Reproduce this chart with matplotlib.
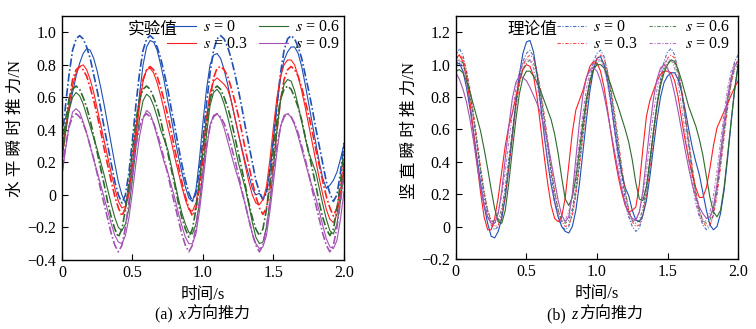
import numpy as np
import matplotlib
matplotlib.use("Agg")
import matplotlib.pyplot as plt
from matplotlib.ticker import FuncFormatter, MultipleLocator
from matplotlib.offsetbox import TextArea, HPacker, AnchoredOffsetbox

plt.rcParams['font.family'] = ['Liberation Serif', 'Noto Sans CJK SC']
plt.rcParams['mathtext.fontset'] = 'stix'
plt.rcParams['font.size'] = 11.5

# time grid, 0.025 s step
time = np.arange(81) * 0.025
labels = ['$s$ = 0', '$s$ = 0.3', '$s$ = 0.6', '$s$ = 0.9']
colors = ['#1f4fb5', '#ff1f1f', '#2e6a2e', '#a352b3']

# (a) x direction, experiment (solid)
blue_exp_a = [0.28, 0.40, 0.52, 0.63, 0.73, 0.81, 0.87, 0.90, 0.89, 0.84, 0.76, 0.66, 0.55, 0.43, 0.31, 0.19, 0.08, 0.00, -0.05,
              0.03, 0.18, 0.40, 0.62, 0.80, 0.91, 0.95, 0.94, 0.89, 0.80, 0.70, 0.58, 0.47, 0.35, 0.24, 0.14, 0.05, -0.02, -0.04, 0.03,
              0.22, 0.45, 0.65, 0.80, 0.86, 0.87, 0.84, 0.77, 0.68, 0.58, 0.48, 0.38, 0.29, 0.20, 0.12, 0.04, 0.00, 0.01, -0.03, 0.02,
              0.15, 0.35, 0.55, 0.72, 0.83, 0.88, 0.91, 0.91, 0.87, 0.79, 0.68, 0.56, 0.44, 0.32, 0.20, 0.10, 0.04, 0.06, 0.09, 0.14, 0.22, 0.31]
red_exp_a = [0.25, 0.40, 0.55, 0.67, 0.75, 0.79, 0.80, 0.77, 0.71, 0.63, 0.53, 0.43, 0.33, 0.23, 0.13, 0.04, -0.04, -0.08, -0.07,
             0.00, 0.15, 0.35, 0.55, 0.70, 0.77, 0.78, 0.75, 0.69, 0.61, 0.52, 0.42, 0.33, 0.23, 0.14, 0.05, -0.03, -0.09, -0.10, -0.05,
             0.08, 0.28, 0.48, 0.63, 0.70, 0.72, 0.70, 0.68, 0.65, 0.58, 0.48, 0.38, 0.28, 0.18, 0.08, 0.00, -0.05, -0.06, -0.03, 0.05,
             0.22, 0.42, 0.60, 0.73, 0.80, 0.83, 0.83, 0.80, 0.73, 0.64, 0.54, 0.43, 0.32, 0.21, 0.10, 0.00, -0.09, -0.15, -0.17, -0.12, 0.00, 0.18]
green_exp_a = [0.22, 0.38, 0.52, 0.60, 0.63, 0.61, 0.56, 0.49, 0.42, 0.35, 0.28, 0.20, 0.12, 0.03, -0.06, -0.14, -0.20, -0.22, -0.18,
               -0.08, 0.10, 0.30, 0.47, 0.58, 0.62, 0.60, 0.55, 0.48, 0.40, 0.34, 0.28, 0.18, 0.08, -0.02, -0.11, -0.18, -0.23, -0.24, -0.18,
               -0.05, 0.15, 0.37, 0.55, 0.63, 0.65, 0.62, 0.56, 0.48, 0.39, 0.30, 0.20, 0.12, 0.04, -0.06, -0.17, -0.26, -0.30, -0.29, -0.20,
               -0.05, 0.17, 0.40, 0.58, 0.68, 0.71, 0.70, 0.64, 0.55, 0.45, 0.35, 0.26, 0.20, 0.14, 0.04, -0.06, -0.15, -0.22, -0.24, -0.18, -0.04, 0.15]
purple_exp_a = [0.12, 0.28, 0.42, 0.51, 0.53, 0.51, 0.45, 0.38, 0.30, 0.22, 0.14, 0.06, -0.02, -0.10, -0.18, -0.25, -0.29, -0.30, -0.25,
                -0.14, 0.02, 0.20, 0.36, 0.47, 0.52, 0.50, 0.44, 0.36, 0.28, 0.20, 0.14, 0.06, -0.02, -0.11, -0.19, -0.26, -0.30, -0.30, -0.24,
                -0.10, 0.08, 0.28, 0.43, 0.49, 0.50, 0.47, 0.41, 0.33, 0.25, 0.17, 0.10, 0.02, -0.06, -0.15, -0.24, -0.30, -0.33, -0.32, -0.25,
                -0.10, 0.08, 0.27, 0.42, 0.49, 0.50, 0.48, 0.43, 0.36, 0.28, 0.20, 0.12, 0.05, -0.02, -0.10, -0.19, -0.27, -0.32, -0.33, -0.28, -0.15, 0.02]

# (a) x direction, theory (dash-dot)
blue_th_a = [0.33, 0.55, 0.74, 0.89, 0.96, 0.98, 0.96, 0.91, 0.84, 0.74, 0.64, 0.53, 0.41, 0.30, 0.19, 0.08, 0.00, -0.05, 0.00, 0.14,
             0.34, 0.56, 0.75, 0.89, 0.96, 0.98, 0.96, 0.91, 0.84, 0.75, 0.65, 0.53, 0.42, 0.30, 0.19, 0.09, 0.01, -0.04, 0.01, 0.15,
             0.35, 0.56, 0.75, 0.89, 0.96, 0.98, 0.96, 0.91, 0.84, 0.75, 0.65, 0.54, 0.42, 0.31, 0.20, 0.09, 0.02, -0.03, 0.01, 0.15,
             0.35, 0.56, 0.75, 0.89, 0.96, 0.98, 0.96, 0.91, 0.84, 0.74, 0.64, 0.53, 0.41, 0.30, 0.19, 0.08, 0.01, -0.04, 0.00, 0.14,
             0.32]
red_th_a = [0.21, 0.40, 0.58, 0.71, 0.77, 0.79, 0.77, 0.73, 0.66, 0.58, 0.49, 0.39, 0.28, 0.18, 0.08, -0.01, -0.08, -0.13, -0.08, 0.04,
            0.22, 0.41, 0.58, 0.71, 0.77, 0.79, 0.77, 0.73, 0.66, 0.58, 0.49, 0.39, 0.28, 0.18, 0.08, -0.01, -0.08, -0.13, -0.08, 0.04,
            0.22, 0.41, 0.59, 0.72, 0.78, 0.79, 0.77, 0.73, 0.66, 0.58, 0.49, 0.39, 0.28, 0.18, 0.08, -0.01, -0.08, -0.12, -0.08, 0.04,
            0.21, 0.40, 0.58, 0.71, 0.77, 0.79, 0.77, 0.73, 0.66, 0.58, 0.49, 0.39, 0.28, 0.18, 0.08, -0.01, -0.08, -0.13, -0.08, 0.04,
            0.20]
green_th_a = [0.28, 0.46, 0.59, 0.65, 0.67, 0.65, 0.60, 0.54, 0.46, 0.36, 0.26, 0.16, 0.06, -0.05, -0.14, -0.21, -0.26, -0.21, -0.09, 0.08,
              0.28, 0.46, 0.59, 0.65, 0.67, 0.65, 0.60, 0.54, 0.46, 0.36, 0.26, 0.16, 0.06, -0.05, -0.14, -0.21, -0.26, -0.21, -0.09, 0.08,
              0.28, 0.46, 0.59, 0.65, 0.67, 0.65, 0.60, 0.54, 0.46, 0.36, 0.26, 0.16, 0.06, -0.05, -0.14, -0.21, -0.25, -0.21, -0.09, 0.08,
              0.28, 0.46, 0.59, 0.65, 0.67, 0.65, 0.60, 0.54, 0.46, 0.36, 0.26, 0.16, 0.06, -0.05, -0.14, -0.21, -0.25, -0.21, -0.09, 0.08,
              0.27]
purple_th_a = [0.14, 0.30, 0.42, 0.48, 0.50, 0.48, 0.44, 0.38, 0.30, 0.22, 0.13, 0.03, -0.06, -0.15, -0.24, -0.31, -0.35, -0.31, -0.20, -0.04,
               0.14, 0.30, 0.42, 0.48, 0.50, 0.48, 0.44, 0.38, 0.30, 0.22, 0.13, 0.03, -0.06, -0.15, -0.24, -0.31, -0.35, -0.31, -0.20, -0.04,
               0.14, 0.30, 0.42, 0.48, 0.50, 0.48, 0.44, 0.38, 0.30, 0.22, 0.13, 0.03, -0.06, -0.15, -0.24, -0.31, -0.35, -0.31, -0.20, -0.04,
               0.14, 0.30, 0.42, 0.48, 0.50, 0.48, 0.44, 0.38, 0.30, 0.22, 0.13, 0.03, -0.06, -0.15, -0.24, -0.31, -0.35, -0.31, -0.20, -0.04,
               0.12]

# (b) z direction, experiment (solid)
blue_exp_b = [1.00, 1.01, 0.96, 0.86, 0.73, 0.58, 0.42, 0.27, 0.13, 0.02, -0.06, -0.07, -0.03, 0.05, 0.18, 0.36, 0.56, 0.76, 0.94, 1.07,
              1.14, 1.15, 1.08, 0.94, 0.76, 0.57, 0.40, 0.26, 0.15, 0.06, 0.00, -0.03, -0.04, 0.00, 0.10, 0.26, 0.46, 0.66, 0.84, 0.97,
              1.04, 1.05, 1.00, 0.90, 0.76, 0.60, 0.45, 0.33, 0.24, 0.19, 0.10, 0.04, 0.03, 0.07, 0.16, 0.31, 0.49, 0.66, 0.80, 0.89,
              0.93, 0.95, 0.95, 0.91, 0.83, 0.72, 0.60, 0.49, 0.40, 0.32, 0.21, 0.10, 0.01, -0.02, 0.00, 0.08, 0.22, 0.42, 0.64, 0.84,
              1.00]
red_exp_b = [1.04, 1.06, 1.02, 0.92, 0.77, 0.58, 0.39, 0.21, 0.06, -0.02, -0.02, 0.05, 0.18, 0.34, 0.50, 0.62, 0.70, 0.80, 0.90, 0.97,
             1.00, 0.99, 0.93, 0.80, 0.62, 0.44, 0.27, 0.13, 0.05, 0.03, 0.06, 0.18, 0.38, 0.58, 0.72, 0.78, 0.84, 0.92, 0.99, 1.02,
             1.01, 0.96, 0.86, 0.72, 0.57, 0.43, 0.31, 0.21, 0.13, 0.09, 0.10, 0.12, 0.26, 0.48, 0.68, 0.78, 0.84, 0.90, 0.94, 0.96,
             0.96, 0.95, 0.90, 0.80, 0.66, 0.53, 0.42, 0.32, 0.24, 0.18, 0.18, 0.24, 0.36, 0.50, 0.61, 0.66, 0.71, 0.76, 0.81, 0.86,
             0.90]
green_exp_b = [0.96, 0.97, 0.95, 0.90, 0.83, 0.75, 0.67, 0.59, 0.48, 0.36, 0.23, 0.11, 0.03, 0.02, 0.10, 0.27, 0.47, 0.66, 0.82, 0.92,
               0.96, 0.96, 0.93, 0.89, 0.84, 0.78, 0.72, 0.66, 0.57, 0.45, 0.30, 0.17, 0.13, 0.18, 0.30, 0.47, 0.64, 0.79, 0.90, 0.97,
               1.00, 1.00, 0.98, 0.93, 0.87, 0.80, 0.74, 0.67, 0.60, 0.52, 0.41, 0.27, 0.17, 0.16, 0.25, 0.41, 0.59, 0.75, 0.87, 0.95,
               1.00, 1.03, 1.02, 0.97, 0.90, 0.82, 0.74, 0.68, 0.62, 0.54, 0.44, 0.31, 0.18, 0.09, 0.06, 0.10, 0.24, 0.44, 0.65, 0.85,
               1.00]
purple_exp_b = [0.95, 0.91, 0.85, 0.77, 0.66, 0.53, 0.38, 0.24, 0.13, 0.06, 0.02, 0.02, 0.08, 0.22, 0.42, 0.62, 0.79, 0.89, 0.93, 0.92,
                0.90, 0.86, 0.81, 0.76, 0.70, 0.62, 0.52, 0.40, 0.28, 0.16, 0.07, 0.03, 0.06, 0.20, 0.42, 0.64, 0.81, 0.92, 0.97, 0.98,
                0.96, 0.90, 0.81, 0.70, 0.58, 0.46, 0.34, 0.23, 0.14, 0.08, 0.05, 0.04, 0.09, 0.22, 0.42, 0.62, 0.79, 0.91, 0.98, 1.00,
                0.98, 0.91, 0.82, 0.71, 0.59, 0.47, 0.36, 0.26, 0.18, 0.12, 0.08, 0.05, 0.06, 0.12, 0.26, 0.45, 0.64, 0.80, 0.92, 0.99,
                1.02]

# (b) z direction, theory (dash-dot)
blue_th_b = [1.06, 1.10, 1.06, 0.96, 0.83, 0.67, 0.50, 0.33, 0.18, 0.07, 0.01, -0.02, 0.00, 0.08, 0.22, 0.40, 0.58, 0.76, 0.91, 1.02,
             1.07, 1.09, 1.05, 0.95, 0.82, 0.66, 0.49, 0.32, 0.17, 0.06, 0.00, -0.02, 0.00, 0.08, 0.22, 0.40, 0.58, 0.76, 0.91, 1.02,
             1.07, 1.09, 1.05, 0.95, 0.82, 0.66, 0.49, 0.32, 0.17, 0.06, 0.00, -0.03, -0.01, 0.07, 0.21, 0.39, 0.58, 0.76, 0.91, 1.02,
             1.08, 1.10, 1.06, 0.96, 0.83, 0.67, 0.50, 0.33, 0.18, 0.07, 0.01, -0.02, 0.00, 0.08, 0.22, 0.40, 0.58, 0.76, 0.91, 1.02,
             1.06]
red_th_b = [1.03, 1.06, 1.04, 0.96, 0.85, 0.70, 0.54, 0.37, 0.22, 0.10, 0.03, 0.00, 0.01, 0.07, 0.19, 0.36, 0.55, 0.73, 0.88, 0.99,
            1.04, 1.06, 1.04, 0.96, 0.85, 0.70, 0.54, 0.37, 0.22, 0.10, 0.03, 0.00, 0.01, 0.07, 0.19, 0.36, 0.55, 0.73, 0.88, 0.99,
            1.04, 1.06, 1.04, 0.96, 0.85, 0.70, 0.54, 0.37, 0.22, 0.10, 0.03, 0.00, 0.01, 0.07, 0.19, 0.36, 0.55, 0.73, 0.88, 0.99,
            1.04, 1.06, 1.04, 0.96, 0.85, 0.70, 0.54, 0.37, 0.22, 0.10, 0.03, 0.00, 0.01, 0.07, 0.19, 0.36, 0.55, 0.73, 0.88, 0.99,
            1.03]
green_th_b = [1.00, 1.03, 1.01, 0.94, 0.82, 0.67, 0.51, 0.35, 0.21, 0.10, 0.04, 0.02, 0.04, 0.11, 0.24, 0.41, 0.59, 0.76, 0.89, 0.97,
              1.01, 1.03, 1.01, 0.94, 0.82, 0.67, 0.51, 0.35, 0.21, 0.10, 0.04, 0.02, 0.04, 0.11, 0.24, 0.41, 0.59, 0.76, 0.89, 0.97,
              1.01, 1.03, 1.01, 0.94, 0.82, 0.67, 0.51, 0.35, 0.21, 0.10, 0.04, 0.02, 0.04, 0.11, 0.24, 0.41, 0.59, 0.76, 0.89, 0.97,
              1.01, 1.03, 1.01, 0.94, 0.82, 0.67, 0.51, 0.35, 0.21, 0.10, 0.04, 0.02, 0.04, 0.11, 0.24, 0.41, 0.59, 0.76, 0.89, 0.97,
              1.00]
purple_th_b = [1.02, 1.03, 0.98, 0.88, 0.74, 0.58, 0.41, 0.26, 0.14, 0.06, 0.03, 0.04, 0.09, 0.19, 0.34, 0.52, 0.70, 0.85, 0.96, 1.01,
               1.03, 1.03, 0.98, 0.88, 0.74, 0.58, 0.41, 0.26, 0.14, 0.06, 0.03, 0.04, 0.09, 0.19, 0.34, 0.52, 0.70, 0.85, 0.96, 1.01,
               1.03, 1.03, 0.98, 0.88, 0.74, 0.58, 0.41, 0.26, 0.14, 0.06, 0.03, 0.04, 0.09, 0.19, 0.34, 0.52, 0.70, 0.85, 0.96, 1.01,
               1.03, 1.03, 0.98, 0.88, 0.74, 0.58, 0.41, 0.26, 0.14, 0.06, 0.03, 0.04, 0.09, 0.19, 0.34, 0.52, 0.70, 0.85, 0.96, 1.01,
               1.02]

exp_a = [blue_exp_a, red_exp_a, green_exp_a, purple_exp_a]
th_a = [blue_th_a, red_th_a, green_th_a, purple_th_a]
exp_b = [blue_exp_b, red_exp_b, green_exp_b, purple_exp_b]
th_b = [blue_th_b, red_th_b, green_th_b, purple_th_b]


def fmt(v, pos):
    if abs(v) < 1e-9:
        return '0'
    return ('%.1f' % v).replace('-', '\u2212')


fig = plt.figure(figsize=(7.56, 3.29), dpi=100)
ax1 = fig.add_axes([0.082, 0.210, 0.373, 0.741])
ax2 = fig.add_axes([0.603, 0.213, 0.3734, 0.738])

solid_a = []
for i in range(4):
    ln, = ax1.plot(time, exp_a[i], color=colors[i], lw=0.8, label=labels[i])
    solid_a.append(ln)
    ax1.plot(time, th_a[i], color=colors[i], lw=1.2, dashes=(5, 1.5, 1, 1.5))

dash_b = []
for i in range(4):
    ax2.plot(time, exp_b[i], color=colors[i], lw=0.8)
    ln, = ax2.plot(time, th_b[i], color=colors[i], lw=0.8, alpha=0.8,
                   dashes=(3, 1.5, 1, 1.5), label=labels[i])
    dash_b.append(ln)

for ax, ylim, ylab, lab_y in [(ax1, (-0.4, 1.1), '水 平 瞬 时 推 力/N', 0.54),
                              (ax2, (-0.2, 1.3), '竖 直 瞬 时 推 力/N', 0.53)]:
    ax.set_xlim(0, 2.0)
    ax.set_ylim(*ylim)
    ax.xaxis.set_major_locator(MultipleLocator(0.5))
    ax.yaxis.set_major_locator(MultipleLocator(0.2))
    ax.xaxis.set_major_formatter(FuncFormatter(fmt))
    ax.yaxis.set_major_formatter(FuncFormatter(fmt))
    ax.tick_params(direction='in', length=4, width=0.8, labelsize=11.5, pad=4)
    for sp in ax.spines.values():
        sp.set_linewidth(1.0)
    ax.set_xlabel('时间/s', fontsize=12, labelpad=4)
    ax.set_ylabel(ylab, fontsize=12)
    ax.yaxis.set_label_coords(-0.135, lab_y)

leg_kw = dict(ncol=2, frameon=False, handlelength=1.8, handletextpad=0.45,
              columnspacing=0.7, labelspacing=0.05, borderpad=0.2, borderaxespad=0.0,
              fontsize=11.5)
ax1.legend(handles=solid_a, loc='upper right', bbox_to_anchor=(0.995, 1.0), **leg_kw)
ax2.legend(handles=dash_b, loc='upper right', bbox_to_anchor=(0.98, 1.0), **leg_kw)
ax1.text(0.232, 0.945, '实验值', transform=ax1.transAxes, va='center', ha='left', fontsize=12)
ax2.text(0.183, 0.945, '理论值', transform=ax2.transAxes, va='center', ha='left', fontsize=12)

# captions: (a) x方向推力, (b) z方向推力
for cx, tag, var in [(0.268, '(a) ', 'x'), (0.787, '(b) ', 'z')]:
    parts = [TextArea(tag, textprops=dict(size=11.5)),
             TextArea(var, textprops=dict(size=11.5, style='italic')),
             TextArea('方向推力', textprops=dict(size=11.5))]
    box = HPacker(children=parts, align='baseline', pad=0, sep=1)
    anc = AnchoredOffsetbox(loc='center', child=box, frameon=False, pad=0, borderpad=0,
                            bbox_to_anchor=(cx, 1 - 315 / 329), bbox_transform=fig.transFigure)
    fig.add_artist(anc)

fig.savefig('out.png', dpi=100)
